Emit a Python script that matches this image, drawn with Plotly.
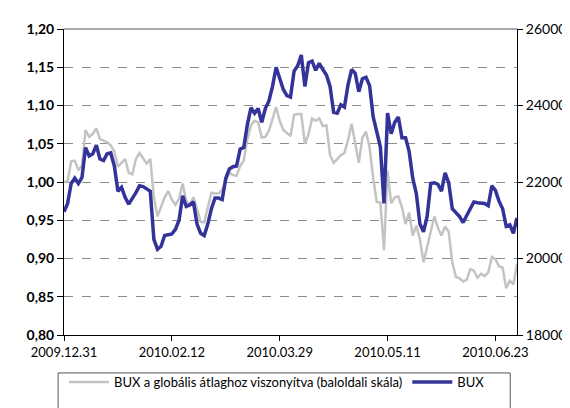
import plotly.graph_objects as go

# trading-day index, labels every 30 sessions
tick_pos = [0, 30, 60, 90, 120]
tick_labels = ["2009.12.31", "2010.02.12", "2010.03.29", "2010.05.11", "2010.06.23"]

# BUX relative to global average (left scale)
relative = [
    1.000, 1.001, 1.027, 1.028, 1.016, 1.021, 1.068, 1.059, 1.063, 1.070,
    1.056, 1.054, 1.052, 1.048, 1.040, 1.020, 1.025, 1.030, 1.012, 1.010,
    1.030, 1.038, 1.031, 1.024, 1.030, 0.980, 0.955, 0.968, 0.980, 0.988,
    0.977, 0.970, 0.978, 0.998, 0.975, 0.970, 0.980, 0.965, 0.948, 0.947,
    0.968, 0.986, 0.985, 0.985, 0.990, 1.002, 1.012, 1.009, 1.008, 1.021,
    1.028, 1.056, 1.074, 1.080, 1.078, 1.058, 1.059, 1.067, 1.082, 1.098,
    1.080, 1.068, 1.064, 1.060, 1.088, 1.089, 1.089, 1.050, 1.062, 1.083,
    1.080, 1.083, 1.073, 1.074, 1.035, 1.025, 1.030, 1.035, 1.038, 1.055,
    1.076, 1.050, 1.025, 1.058, 1.066, 1.045, 1.005, 0.974, 0.973, 0.911,
    1.015, 0.972, 0.980, 0.981, 0.967, 0.945, 0.960, 0.930, 0.943, 0.925,
    0.895, 0.915, 0.935, 0.955, 0.940, 0.930, 0.942, 0.935, 0.895, 0.876,
    0.874, 0.870, 0.872, 0.886, 0.884, 0.875, 0.880, 0.877, 0.882, 0.902,
    0.899, 0.890, 0.888, 0.861, 0.871, 0.866, 0.893,
]

# BUX index (right scale)
bux = [
    21220, 21440, 21960, 22100, 21960, 22120, 22900, 22680, 22740, 22960,
    22600, 22560, 22740, 22760, 22420, 21760, 21860, 21600, 21420, 21560,
    21720, 21900, 21880, 21820, 21760, 20500, 20240, 20320, 20600, 20620,
    20640, 20760, 21000, 21640, 21360, 21400, 21480, 20900, 20660, 20600,
    20900, 21300, 21580, 21580, 21540, 22100, 22340, 22400, 22420, 22860,
    22900, 23500, 23940, 23800, 23920, 23560, 23920, 24120, 24500, 25000,
    24680, 24420, 24260, 24220, 24900, 25040, 25320, 24500, 25120, 25160,
    24920, 25100, 24940, 24800, 24500, 23820, 23800, 24020, 23960, 24540,
    24940, 24840, 24360, 24700, 24740, 24520, 23700, 23260, 22920, 21440,
    23800, 23260, 23560, 23700, 23160, 23160, 22800, 22100, 21700, 20900,
    20700, 21100, 21960, 21980, 21940, 21760, 22240, 21980, 21300, 21200,
    21100, 20940, 21120, 21300, 21480, 21460, 21460, 21440, 21380, 21900,
    21780, 21500, 21300, 20840, 20880, 20660, 21060,
]

x = list(range(len(bux)))

fig = go.Figure()
fig.add_trace(go.Scatter(
    x=x, y=relative, mode="lines", yaxis="y",
    name="BUX a globális átlaghoz viszonyítva (baloldali skála)",
    line=dict(color="#c3c3c3", width=2.5),
))
fig.add_trace(go.Scatter(
    x=x, y=bux, mode="lines", yaxis="y2", name="BUX",
    line=dict(color="#333399", width=3.5),
))

fig.update_layout(
    width=570, height=408,
    margin=dict(l=56, r=55, t=20, b=81),
    paper_bgcolor="white", plot_bgcolor="white",
    separators=", ",
    font=dict(family="Lato, 'DejaVu Sans', sans-serif", size=13, color="black"),
    showlegend=True,
    legend=dict(
        orientation="h", x=0.0, xanchor="left", y=-0.105, yanchor="top",
        font=dict(size=13), bgcolor="rgba(0,0,0,0)", borderwidth=0,
        itemwidth=40, traceorder="normal",
    ),
    xaxis=dict(
        range=[0, len(bux) - 1],
        tickmode="array", tickvals=tick_pos, ticktext=tick_labels,
        showgrid=False, zeroline=False,
        showline=True, linecolor="black", linewidth=1,
        ticks="outside", ticklen=5, tickcolor="black",
        tickfont=dict(size=13),
    ),
    yaxis=dict(
        range=[0.8, 1.2], dtick=0.05, tickformat=".2f",
        showgrid=True, gridcolor="#8c8c8c", griddash="dash", gridwidth=1,
        zeroline=False,
        showline=True, linecolor="black", linewidth=1,
        ticks="outside", ticklen=6, tickcolor="black",
        tickfont=dict(size=14, family="Lato, sans-serif", weight="bold"),
    ),
    yaxis2=dict(
        range=[18000, 26000], dtick=2000, tickformat="d",
        overlaying="y", side="right",
        showgrid=False, zeroline=False,
        showline=True, linecolor="black", linewidth=1,
        ticks="outside", ticklen=5, tickcolor="black",
        tickfont=dict(size=14),
    ),
    shapes=[
        dict(type="line", xref="paper", yref="paper", x0=0, x1=1, y0=1, y1=1,
             line=dict(color="#8c8c8c", width=1.5)),
        dict(type="rect", xref="paper", yref="paper",
             x0=-0.013, x1=0.985, y0=-0.28, y1=-0.124,
             line=dict(color="#555555", width=1)),
    ],
)

fig.write_html("out.html")
